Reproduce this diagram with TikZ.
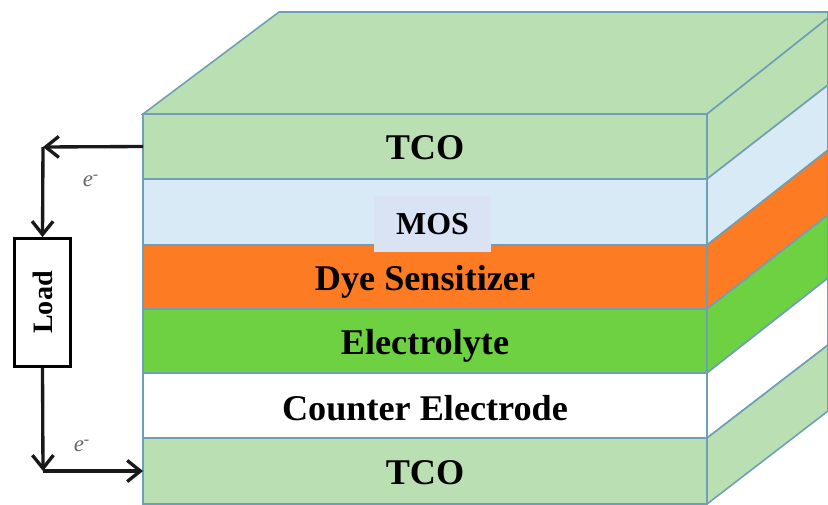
\documentclass[tikz,border=0pt]{standalone}
\usepackage{fontspec}
\usetikzlibrary{arrows.meta}
\setmainfont{Liberation Serif}
\definecolor{tcogreen}{HTML}{B9DFB2}
\definecolor{mosblue}{HTML}{D9EAF7}
\definecolor{moslabel}{HTML}{D9E3F3}
\definecolor{dyeorange}{HTML}{FD7B22}
\definecolor{elecgreen}{HTML}{6DD142}
\definecolor{edgeblue}{HTML}{6F9FB5}
\begin{document}
\begin{tikzpicture}[
                x=.02cm, y=-.02cm,
                face/.style={draw=edgeblue, line width=.9pt},
                layer/.style={face, minimum width=11.28cm, inner sep=0, outer sep=0, text height=14.8pt, text depth=0pt, font=\fontsize{20.6}{24}\bfseries},
                wire/.style={line width=1.9pt, color=black!90},
                wirearrow/.style={wire, ->, >={Straight Barb[length=7.5pt, width=12pt, line width=1.9pt]}},
                electron/.style={font=\fontsize{13}{15}\itshape, color=black!60, inner sep=0},
            ]
                \useasboundingbox (0, 0) rectangle (828, 504);
                % top and side faces
                \draw[face, fill=tcogreen] (143, 114) -- (279, 12) -- (828, 12) -- (828, 18) -- (707, 114) -- cycle;
                \draw[face, fill=tcogreen] (707, 114) -- (828, 18) -- (828, 85) -- (707, 179) -- cycle;
                \draw[face, fill=mosblue] (707, 179) -- (828, 85) -- (828, 150) -- (707, 245) -- cycle;
                \draw[face, fill=dyeorange] (707, 245) -- (828, 150) -- (828, 215) -- (707, 309) -- cycle;
                \draw[face, fill=elecgreen] (707, 309) -- (828, 215) -- (828, 278) -- (707, 373) -- cycle;
                \draw[face, fill=white] (707, 373) -- (828, 278) -- (828, 345) -- (707, 438) -- cycle;
                \draw[face, fill=tcogreen] (707, 438) -- (828, 345) -- (828, 411) -- (707, 504) -- cycle;
                % front layers
                \node[layer, fill=tcogreen, minimum height=1.3cm] (tcotop) at (425, 146.5) {TCO};
                \node[layer, fill=mosblue, minimum height=1.32cm] (mos) at (425, 212) {};
                \node[layer, fill=dyeorange, minimum height=1.28cm] (dye) at (425, 277) {Dye Sensitizer};
                \node[layer, fill=elecgreen, minimum height=1.28cm] (electrolyte) at (425, 341) {Electrolyte};
                \node[layer, fill=white, minimum height=1.3cm, text height=17pt] (counter) at (425, 405.5) {Counter Electrode};
                \node[layer, fill=tcogreen, minimum height=1.32cm] (tcobottom) at (425, 471) {TCO};
                \node[fill=moslabel, minimum width=2.34cm, minimum height=1.12cm, inner sep=0, font=\fontsize{18.2}{22}\bfseries] (moslabel) at (432.5, 224) {MOS\hspace{2.5pt}};
                % external circuit
                \node[draw=black, line width=1.9pt, fill=white, minimum width=1.11cm, minimum height=2.55cm, inner sep=0] (load) at (42.5, 302.5) {};
                \node[rotate=90, font=\fontsize{16}{18}\bfseries, inner sep=0] (loadtext) at (load.center) {Load};
                \coordinate (cornertop) at (43, 147);
                \coordinate (cornerbottom) at (43, 471);
                \draw[wirearrow] (tcotop.west) -- (cornertop);
                \draw[wirearrow] (cornertop) -- (load.north);
                \draw[wirearrow] (load.south) -- (cornerbottom);
                \draw[wirearrow] (cornerbottom) -- (tcobottom.west);
                \node[electron] (etop) at (91, 181) {e\textsuperscript{-}};
                \node[electron] (ebottom) at (82, 446) {e\textsuperscript{-}};
            \end{tikzpicture}
\end{document}
